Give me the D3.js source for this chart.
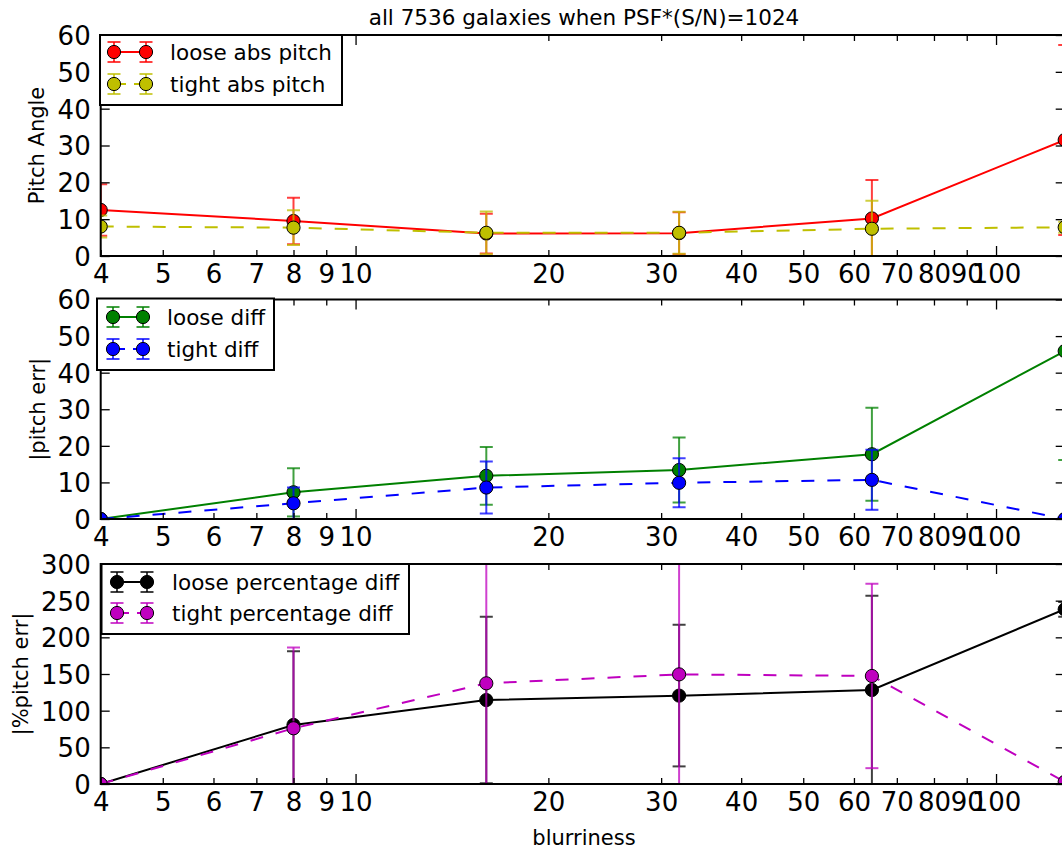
<!DOCTYPE html>
<html>
<head>
<meta charset="utf-8">
<script src="https://cdn.jsdelivr.net/npm/d3@7"></script>
<style>
  html, body { margin: 0; padding: 0; background: #fff; overflow: hidden; }
  svg { display: block; font-family: "DejaVu Sans", sans-serif; }
</style>
</head>
<body>
<svg id="chart" width="1062" height="851"></svg>
<script>
// ---------- data ----------
const blurriness = [4, 8, 16, 32, 64, 128];

const looseAbsPitch    = [12.5, 9.5, 6.1, 6.2, 10.2, 31.5];
const looseAbsPitchErr = [7.0, 6.3, 5.4, 5.7, 10.4, 25.8];
const tightAbsPitch    = [8.0, 7.7, 6.3, 6.3, 7.4, 7.8];
const tightAbsPitchErr = [3.0, 4.7, 5.8, 5.7, 7.6, 1.5];

const looseDiff    = [0, 7.3, 11.8, 13.4, 17.7, 45.9];
const looseDiffErr = [0, 6.6, 7.9, 8.9, 12.7, 29.8];
const tightDiff    = [0, 4.3, 8.6, 9.9, 10.7, 0];
const tightDiffErr = [0, 4.3, 7.1, 6.7, 8.2, 0];

const loosePctDiff    = [0, 80.5, 114.5, 120.5, 128.2, 238.2];
const loosePctDiffErr = [0, 100.5, 113.5, 96.5, 128.6, 10];
const tightPctDiff    = [0, 76, 137.3, 149.5, 147.3, 3];
const tightPctDiffErr = [0, 110, 200, 200, 125.7, 0];

const xTickValues = [4, 5, 6, 7, 8, 9, 10, 20, 30, 40, 50, 60, 70, 80, 90, 100];
const xMajorTicks = [10, 100];
const yTicksAngle = [0, 10, 20, 30, 40, 50, 60];
const yTicksPct   = [0, 50, 100, 150, 200, 250, 300];

const titleText = "all 7536 galaxies when PSF*(S/N)=1024";
const xLabelText = "blurriness";

// ---------- layout ----------
const svg = d3.select("#chart");
const xLeft = 100.7, xRight = 1064.7;
const x = d3.scaleLog().domain([4, 128]).range([xLeft, xRight]);

const panels = [
  { top: 35, bottom: 256, yMax: 60, yTicks: yTicksAngle, ylabel: "Pitch Angle", ylabelX: 37,
    legendBox: [100, 35, 242, 70], legendRows: [52, 84], legendMarkX: [114, 146], legendTextX: 170,
    series: [
      { name: "loose abs pitch", vals: looseAbsPitch, errs: looseAbsPitchErr, color: "#ff0000", dash: null },
      { name: "tight abs pitch", vals: tightAbsPitch, errs: tightAbsPitchErr, color: "#bfbf00", dash: "13,13" }
    ]},
  { top: 299.5, bottom: 519, yMax: 60, yTicks: yTicksAngle, ylabel: "|pitch err|", ylabelX: 38,
    legendBox: [97, 298.5, 177, 71.5], legendRows: [317, 349], legendMarkX: [113, 143], legendTextX: 167,
    series: [
      { name: "loose diff", vals: looseDiff, errs: looseDiffErr, color: "#008000", dash: null },
      { name: "tight diff", vals: tightDiff, errs: tightDiffErr, color: "#0000ff", dash: "13,13" }
    ]},
  { top: 564, bottom: 784, yMax: 300, yTicks: yTicksPct, ylabel: "|%pitch err|", ylabelX: 21,
    legendBox: [101.5, 564, 307.5, 70], legendRows: [582, 613], legendMarkX: [117, 147], legendTextX: 172,
    series: [
      { name: "loose percentage diff", vals: loosePctDiff, errs: loosePctDiffErr, color: "#000000", dash: null },
      { name: "tight percentage diff", vals: tightPctDiff, errs: tightPctDiffErr, color: "#bf00bf", dash: "13,13" }
    ]}
];

const tickFont = 26, labelFont = 21, legendFont = 21.5;
const markerR = 6.6, capW = 6.5, lineW = 2, errAlpha = 0.75;

// title
svg.append("text").attr("x", 584).attr("y", 25).attr("text-anchor", "middle")
  .attr("font-size", 21.5).text(titleText);

panels.forEach((p, i) => {
  const y = d3.scaleLinear().domain([0, p.yMax]).range([p.bottom, p.top]);
  const g = svg.append("g");
  const clipId = "clip" + i;
  svg.append("clipPath").attr("id", clipId).append("rect")
    .attr("x", xLeft).attr("y", p.top).attr("width", xRight - xLeft).attr("height", p.bottom - p.top);

  const plot = g.append("g").attr("clip-path", `url(#${clipId})`);

  p.series.forEach(s => {
    const pts = blurriness.map((b, k) => ({ b, v: s.vals[k], e: s.errs[k] }));
    const eb = plot.append("g").attr("stroke", s.color).attr("stroke-opacity", errAlpha).attr("stroke-width", lineW);
    pts.forEach(d => {
      const x0 = x(d.b), yt = y(d.v + d.e), yb = y(d.v - d.e);
      eb.append("line").attr("x1", x0).attr("x2", x0).attr("y1", yt).attr("y2", yb);
      eb.append("line").attr("x1", x0 - capW).attr("x2", x0 + capW).attr("y1", yt).attr("y2", yt);
      eb.append("line").attr("x1", x0 - capW).attr("x2", x0 + capW).attr("y1", yb).attr("y2", yb);
    });
    const line = d3.line().x(d => x(d.b)).y(d => y(d.v));
    plot.append("path").datum(pts).attr("d", line).attr("fill", "none")
      .attr("stroke", s.color).attr("stroke-width", lineW)
      .attr("stroke-dasharray", s.dash);
    plot.append("g").selectAll("circle").data(pts).join("circle")
      .attr("cx", d => x(d.b)).attr("cy", d => y(d.v)).attr("r", markerR)
      .attr("fill", s.color).attr("stroke", "#000").attr("stroke-width", 1);
  });

  const bottomAx = g.append("g").attr("transform", `translate(0,${p.bottom})`)
    .call(d3.axisBottom(x).tickValues(xTickValues).tickFormat(d3.format("d"))
      .tickSizeInner(-6).tickSizeOuter(0).tickPadding(9));
  bottomAx.selectAll(".tick line").attr("y2", d => xMajorTicks.includes(d) ? -10 : -6);
  const topAx = g.append("g").attr("transform", `translate(0,${p.top})`)
    .call(d3.axisTop(x).tickValues(xTickValues).tickFormat("").tickSizeInner(-6).tickSizeOuter(0));
  topAx.selectAll(".tick line").attr("y2", d => xMajorTicks.includes(d) ? 10 : 6);
  const leftAx = g.append("g").attr("transform", `translate(${xLeft},0)`)
    .call(d3.axisLeft(y).tickValues(p.yTicks).tickFormat(d3.format("d"))
      .tickSizeInner(-9).tickSizeOuter(0).tickPadding(10));
  g.append("g").attr("transform", `translate(${xRight},0)`)
    .call(d3.axisRight(y).tickValues(p.yTicks).tickFormat("").tickSizeInner(-9).tickSizeOuter(0));

  g.selectAll(".domain").remove();
  g.selectAll(".tick line").attr("stroke", "#000").attr("stroke-width", 1.3);
  g.selectAll(".tick text").attr("font-size", tickFont).attr("font-family", "DejaVu Sans").attr("fill", "#000");
  leftAx.selectAll(".tick text").attr("dy", "0.36em");

  g.append("rect").attr("x", xLeft).attr("y", p.top).attr("width", xRight - xLeft).attr("height", p.bottom - p.top)
    .attr("fill", "none").attr("stroke", "#000").attr("stroke-width", 2);

  svg.append("text").attr("transform", `translate(${p.ylabelX},${(p.top + p.bottom) / 2}) rotate(-90)`)
    .attr("text-anchor", "middle").attr("dy", "0.35em").attr("font-size", labelFont).text(p.ylabel);

  const lg = svg.append("g");
  const [bx, by, bw, bh] = p.legendBox;
  lg.append("rect").attr("x", bx).attr("y", by).attr("width", bw).attr("height", bh)
    .attr("fill", "#fff").attr("stroke", "#000").attr("stroke-width", 2);
  p.series.forEach((s, k) => {
    const ry = p.legendRows[k];
    const [m1, m2] = p.legendMarkX;
    lg.append("line").attr("x1", m1).attr("x2", m2).attr("y1", ry).attr("y2", ry)
      .attr("stroke", s.color).attr("stroke-width", lineW).attr("stroke-dasharray", s.dash ? "8,8" : null)
      .attr("stroke-dashoffset", s.dash ? -4 : null);
    [m1, m2].forEach(mx => {
      const e = lg.append("g").attr("stroke", s.color).attr("stroke-opacity", errAlpha).attr("stroke-width", lineW);
      e.append("line").attr("x1", mx).attr("x2", mx).attr("y1", ry - 10).attr("y2", ry + 10);
      e.append("line").attr("x1", mx - capW).attr("x2", mx + capW).attr("y1", ry - 10).attr("y2", ry - 10);
      e.append("line").attr("x1", mx - capW).attr("x2", mx + capW).attr("y1", ry + 10).attr("y2", ry + 10);
      lg.append("circle").attr("cx", mx).attr("cy", ry).attr("r", markerR)
        .attr("fill", s.color).attr("stroke", "#000").attr("stroke-width", 1);
    });
    lg.append("text").attr("x", p.legendTextX).attr("y", ry).attr("dy", "0.35em")
      .attr("font-size", legendFont).text(s.name);
  });
});

svg.append("text").attr("x", 584).attr("y", 845).attr("text-anchor", "middle")
  .attr("font-size", labelFont).text(xLabelText);
</script>
</body>
</html>
